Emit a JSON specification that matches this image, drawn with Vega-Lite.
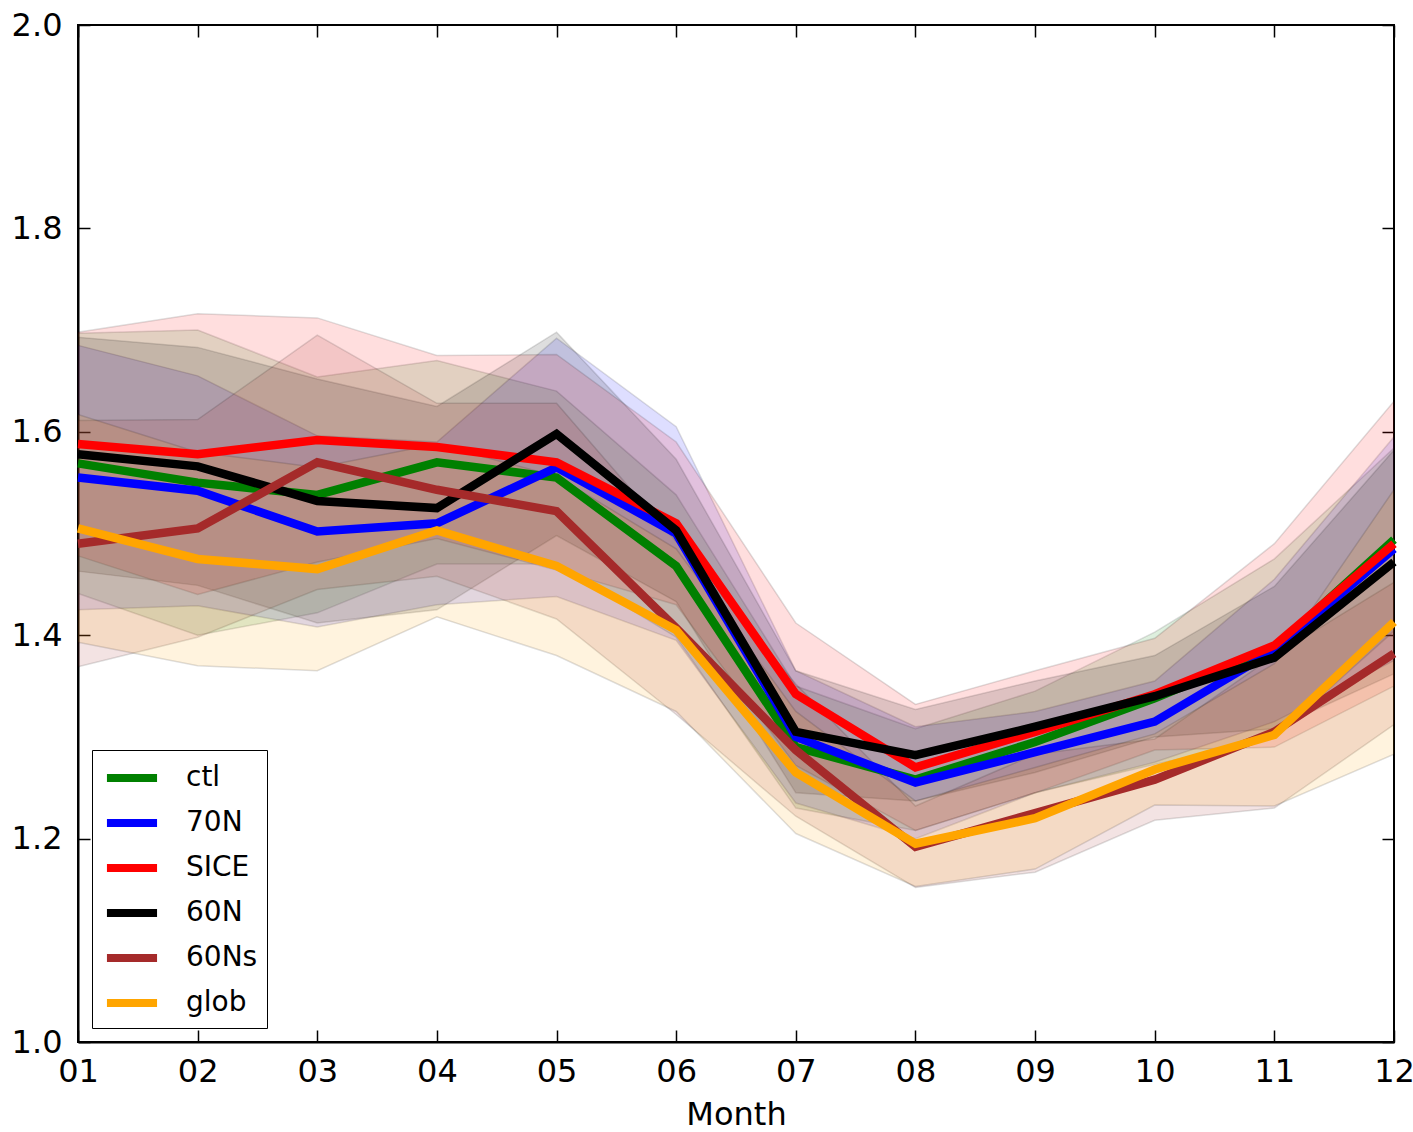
{
  "$schema": "https://vega.github.io/schema/vega-lite/v6.json",
  "autosize": "none",
  "width": 1316,
  "height": 1017,
  "padding": {"left": 78, "top": 25, "right": 19, "bottom": 90},
  "background": "white",
  "config": {
    "font": "DejaVu Sans",
    "view": {"stroke": "black", "strokeWidth": 2},
    "axis": {
      "domainColor": "black", "domainWidth": 2, "tickColor": "black", "tickWidth": 1.5,
      "tickSize": -12, "labelColor": "black", "labelFont": "DejaVu Sans", "labelFontSize": 32,
      "titleFont": "DejaVu Sans", "titleFontSize": 32, "titleFontWeight": "normal", "titleColor": "black",
      "grid": false
    }
  },
  "datasets": {
    "d": [
      {"s":"ctl","m":"01","v":1.569,"lo":1.441,"hi":1.697},
      {"s":"ctl","m":"02","v":1.550,"lo":1.400,"hi":1.700},
      {"s":"ctl","m":"03","v":1.538,"lo":1.422,"hi":1.654},
      {"s":"ctl","m":"04","v":1.570,"lo":1.470,"hi":1.670},
      {"s":"ctl","m":"05","v":1.555,"lo":1.470,"hi":1.640},
      {"s":"ctl","m":"06","v":1.468,"lo":1.398,"hi":1.538},
      {"s":"ctl","m":"07","v":1.290,"lo":1.230,"hi":1.350},
      {"s":"ctl","m":"08","v":1.258,"lo":1.208,"hi":1.308},
      {"s":"ctl","m":"09","v":1.295,"lo":1.245,"hi":1.345},
      {"s":"ctl","m":"10","v":1.338,"lo":1.273,"hi":1.403},
      {"s":"ctl","m":"11","v":1.387,"lo":1.299,"hi":1.475},
      {"s":"ctl","m":"12","v":1.494,"lo":1.404,"hi":1.584},
      {"s":"70N","m":"01","v":1.555,"lo":1.425,"hi":1.685},
      {"s":"70N","m":"02","v":1.542,"lo":1.429,"hi":1.655},
      {"s":"70N","m":"03","v":1.502,"lo":1.408,"hi":1.596},
      {"s":"70N","m":"04","v":1.510,"lo":1.430,"hi":1.590},
      {"s":"70N","m":"05","v":1.565,"lo":1.438,"hi":1.692},
      {"s":"70N","m":"06","v":1.500,"lo":1.395,"hi":1.605},
      {"s":"70N","m":"07","v":1.300,"lo":1.235,"hi":1.365},
      {"s":"70N","m":"08","v":1.255,"lo":1.200,"hi":1.310},
      {"s":"70N","m":"09","v":1.285,"lo":1.245,"hi":1.325},
      {"s":"70N","m":"10","v":1.315,"lo":1.275,"hi":1.355},
      {"s":"70N","m":"11","v":1.385,"lo":1.315,"hi":1.455},
      {"s":"70N","m":"12","v":1.485,"lo":1.375,"hi":1.595},
      {"s":"SICE","m":"01","v":1.588,"lo":1.478,"hi":1.698},
      {"s":"SICE","m":"02","v":1.578,"lo":1.440,"hi":1.716},
      {"s":"SICE","m":"03","v":1.592,"lo":1.472,"hi":1.712},
      {"s":"SICE","m":"04","v":1.585,"lo":1.495,"hi":1.675},
      {"s":"SICE","m":"05","v":1.570,"lo":1.464,"hi":1.676},
      {"s":"SICE","m":"06","v":1.510,"lo":1.430,"hi":1.590},
      {"s":"SICE","m":"07","v":1.342,"lo":1.272,"hi":1.412},
      {"s":"SICE","m":"08","v":1.270,"lo":1.208,"hi":1.332},
      {"s":"SICE","m":"09","v":1.305,"lo":1.245,"hi":1.365},
      {"s":"SICE","m":"10","v":1.342,"lo":1.287,"hi":1.397},
      {"s":"SICE","m":"11","v":1.390,"lo":1.290,"hi":1.490},
      {"s":"SICE","m":"12","v":1.490,"lo":1.350,"hi":1.630},
      {"s":"60N","m":"01","v":1.578,"lo":1.463,"hi":1.693},
      {"s":"60N","m":"02","v":1.566,"lo":1.449,"hi":1.683},
      {"s":"60N","m":"03","v":1.532,"lo":1.412,"hi":1.652},
      {"s":"60N","m":"04","v":1.525,"lo":1.425,"hi":1.625},
      {"s":"60N","m":"05","v":1.598,"lo":1.498,"hi":1.698},
      {"s":"60N","m":"06","v":1.503,"lo":1.433,"hi":1.573},
      {"s":"60N","m":"07","v":1.305,"lo":1.245,"hi":1.365},
      {"s":"60N","m":"08","v":1.282,"lo":1.237,"hi":1.327},
      {"s":"60N","m":"09","v":1.310,"lo":1.265,"hi":1.355},
      {"s":"60N","m":"10","v":1.340,"lo":1.300,"hi":1.380},
      {"s":"60N","m":"11","v":1.378,"lo":1.308,"hi":1.448},
      {"s":"60N","m":"12","v":1.472,"lo":1.362,"hi":1.582},
      {"s":"60Ns","m":"01","v":1.490,"lo":1.369,"hi":1.611},
      {"s":"60Ns","m":"02","v":1.505,"lo":1.398,"hi":1.612},
      {"s":"60Ns","m":"03","v":1.570,"lo":1.445,"hi":1.695},
      {"s":"60Ns","m":"04","v":1.543,"lo":1.458,"hi":1.628},
      {"s":"60Ns","m":"05","v":1.522,"lo":1.416,"hi":1.628},
      {"s":"60Ns","m":"06","v":1.407,"lo":1.322,"hi":1.492},
      {"s":"60Ns","m":"07","v":1.287,"lo":1.222,"hi":1.352},
      {"s":"60Ns","m":"08","v":1.192,"lo":1.152,"hi":1.232},
      {"s":"60Ns","m":"09","v":1.225,"lo":1.167,"hi":1.283},
      {"s":"60Ns","m":"10","v":1.258,"lo":1.218,"hi":1.298},
      {"s":"60Ns","m":"11","v":1.305,"lo":1.230,"hi":1.380},
      {"s":"60Ns","m":"12","v":1.382,"lo":1.312,"hi":1.452},
      {"s":"glob","m":"01","v":1.505,"lo":1.393,"hi":1.617},
      {"s":"glob","m":"02","v":1.475,"lo":1.370,"hi":1.580},
      {"s":"glob","m":"03","v":1.465,"lo":1.365,"hi":1.565},
      {"s":"glob","m":"04","v":1.503,"lo":1.418,"hi":1.588},
      {"s":"glob","m":"05","v":1.468,"lo":1.380,"hi":1.556},
      {"s":"glob","m":"06","v":1.405,"lo":1.325,"hi":1.485},
      {"s":"glob","m":"07","v":1.265,"lo":1.205,"hi":1.325},
      {"s":"glob","m":"08","v":1.195,"lo":1.153,"hi":1.237},
      {"s":"glob","m":"09","v":1.220,"lo":1.170,"hi":1.270},
      {"s":"glob","m":"10","v":1.268,"lo":1.233,"hi":1.303},
      {"s":"glob","m":"11","v":1.302,"lo":1.232,"hi":1.372},
      {"s":"glob","m":"12","v":1.413,"lo":1.283,"hi":1.543}
    ]
  },
  "data": {"name": "d"},
  "layer": [
    {
      "mark": {"type": "area", "fillOpacity": 0.13, "stroke": "black", "strokeOpacity": 0.13, "strokeWidth": 1.5},
      "encoding": {
        "x": {"field": "m", "type": "ordinal", "scale": {"type": "point", "padding": 0}, "axis": {"orient": "bottom", "labelAngle": 0, "title": "Month", "labelPadding": 26, "titlePadding": 12}},
        "y": {"field": "lo", "type": "quantitative", "scale": {"domain": [1, 2], "zero": false}, "axis": {"orient": "left", "values": [1, 1.2, 1.4, 1.6, 1.8, 2.0], "format": ".1f", "title": null, "labelPadding": 28}},
        "y2": {"field": "hi"},
        "color": {"field": "s", "type": "nominal", "scale": {"domain": ["ctl", "70N", "SICE", "60N", "60Ns", "glob"], "range": ["#008000", "#0000ff", "#ff0000", "#000000", "#a52a2a", "#ffa500"]}, "legend": null}
      }
    },
    {
      "mark": {"type": "line", "strokeWidth": 8.5, "strokeJoin": "miter"},
      "encoding": {
        "x": {"field": "m", "type": "ordinal", "axis": {"orient": "top", "labels": false, "title": null, "domain": false, "tickSize": -12}},
        "y": {"field": "v", "type": "quantitative", "axis": {"orient": "right", "labels": false, "title": null, "domain": false, "tickSize": -12, "values": [1, 1.2, 1.4, 1.6, 1.8, 2.0]}},
        "color": {"field": "s", "type": "nominal", "legend": {
          "title": null, "orient": "bottom-left", "offset": 14,
          "symbolType": "M-0.87,0H2.47", "symbolSize": 900, "symbolStrokeWidth": 8,
          "labelFontSize": 28, "labelFont": "DejaVu Sans", "labelColor": "black", "labelOffset": 47,
          "rowPadding": 10, "padding": 9, "strokeColor": "black", "fillColor": "white"
        }}
      }
    }
  ],
  "resolve": {"axis": {"x": "independent", "y": "independent"}, "legend": {"color": "independent"}}
}
